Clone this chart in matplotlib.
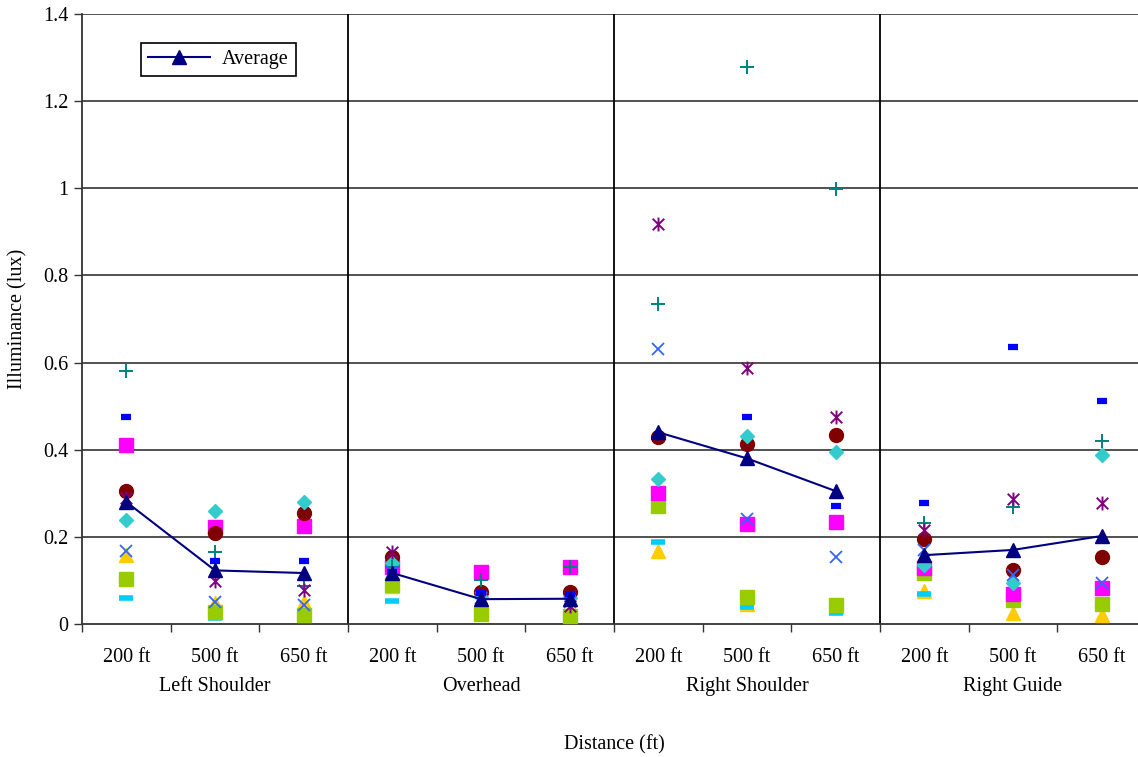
import numpy as np
import matplotlib
matplotlib.use('Agg')
import matplotlib.pyplot as plt
from matplotlib.path import Path
import matplotlib.transforms as mtransforms

plt.rcParams['font.family'] = ['Liberation Serif', 'DejaVu Serif']

groups = ['Left Shoulder', 'Overhead', 'Right Shoulder', 'Right Guide']
distances = ['200 ft', '500 ft', '650 ft']

# readings per series, 3 distances x 4 locations
gold_tri   = [0.158, 0.048, 0.050, 0.088, 0.030, 0.030, 0.168, 0.045, 0.040, 0.075, 0.025, 0.021]
cyan_dash  = [0.060, 0.014, 0.018, 0.053, 0.020, 0.015, 0.188, 0.039, 0.025, 0.069, 0.060, 0.044]
green_sq   = [0.103, 0.028, 0.021, 0.090, 0.023, 0.018, 0.270, 0.062, 0.044, 0.117, 0.056, 0.046]
magenta_sq = [0.411, 0.223, 0.225, 0.131, 0.119, 0.131, 0.300, 0.230, 0.234, 0.128, 0.069, 0.083]
red_circ   = [0.305, 0.209, 0.255, 0.153, 0.074, 0.074, 0.429, 0.413, 0.434, 0.195, 0.124, 0.154]
turq_diam  = [0.239, 0.260, 0.280, 0.140, 0.063, 0.060, 0.333, 0.432, 0.395, 0.135, 0.094, 0.388]
teal_plus  = [0.581, 0.165, 0.088, 0.130, 0.100, 0.131, 0.734, 1.278, 0.998, 0.231, 0.269, 0.420]
purple_ast = [0.290, 0.099, 0.078, 0.165, 0.060, 0.042, 0.918, 0.588, 0.475, 0.215, 0.287, 0.278]
blue_x     = [0.168, 0.050, 0.044, 0.120, 0.060, 0.050, 0.631, 0.241, 0.154, 0.170, 0.112, 0.094]
blue_dash  = [0.476, 0.145, 0.145, 0.120, 0.072, 0.068, 0.430, 0.476, 0.271, 0.277, 0.636, 0.511]
average    = [0.280, 0.123, 0.117, 0.117, 0.057, 0.058, 0.440, 0.380, 0.305, 0.158, 0.170, 0.202]

x = np.arange(12)

# excel style asterisk: X plus vertical bar
ast = Path([(-1, -1), (1, 1), (-1, 1), (1, -1), (0, -1.2), (0, 1.2)],
           [Path.MOVETO, Path.LINETO, Path.MOVETO, Path.LINETO, Path.MOVETO, Path.LINETO])

fig = plt.figure(figsize=(11.38, 7.57), dpi=100)
ax = fig.add_axes([82/1138, 133/757, 1064/1138, 610/757])

ax.set_xlim(-0.5, 11.5)
ax.set_ylim(0, 1.4)

# grid + group separators
for yv in np.arange(0.2, 1.41, 0.2):
    ax.axhline(yv, color='#333333', lw=1.2, zorder=0)
for xv in [2.5, 5.5, 8.5]:
    ax.axvline(xv, color='black', lw=1.3, zorder=0)

kw = dict(ls='none', zorder=3)
ax.plot(x, gold_tri, marker='^', ms=10, color='#ffcc00', mec='#ffcc00', **kw)
ax.plot(x, cyan_dash, marker='_', ms=10, mew=4, color='#00ccff', **kw)
ax.plot(x, green_sq, marker='s', ms=10, color='#99cc00', mec='#99cc00', **kw)
ax.plot(x, magenta_sq, marker='s', ms=10, color='#ff00ff', mec='#ff00ff', **kw)
ax.plot(x, red_circ, marker='o', ms=10, color='#800000', mec='#800000', **kw)
ax.plot(x, turq_diam, marker='D', ms=7.5, color='#33cccc', mec='#33cccc', **kw)
ax.plot(x, teal_plus, marker='+', ms=10, mew=1.4, color='#008080', **kw)
ax.plot(x, purple_ast, marker=ast, ms=10, mew=1.4, color='#800080', mfc='none', **kw)
ax.plot(x, blue_x, marker='x', ms=9, mew=1.3, color='#3366ff', **kw)
ax.plot(x, blue_dash, marker='_', ms=7, mew=4.5, color='#0000ff', **kw)

# average line broken between locations
avg = np.array(average)
for i in range(4):
    sl = slice(3 * i, 3 * i + 3)
    ax.plot(x[sl], avg[sl], marker='^', ms=10, color='#000080', mec='#000080', lw=1.5,
            zorder=4, label='Average' if i == 0 else None)

# axes styling
for s in ['top', 'right']:
    ax.spines[s].set_visible(False)
ax.spines['left'].set_color('#333333')
ax.spines['bottom'].set_color('#333333')
ax.spines['left'].set_linewidth(1.3)
ax.spines['bottom'].set_linewidth(1.3)

ax.set_yticks(np.arange(0, 1.41, 0.2))
ax.set_yticklabels(['0', '0.2', '0.4', '0.6', '0.8', '1', '1.2', '1.4'])
ax.tick_params(axis='y', length=6, width=1, pad=4, labelsize=14.5, color='#333333')

ax.set_xticks(x)
ax.set_xticklabels(distances * 4)
ax.set_xticks(np.arange(-0.5, 11.6, 1), minor=True)
ax.tick_params(axis='x', which='major', length=0, pad=17, labelsize=14.5)
ax.tick_params(axis='x', which='minor', length=6, width=1, color='#333333')

trans = mtransforms.blended_transform_factory(ax.transData, ax.transAxes)
for i, g in enumerate(groups):
    ax.text(3 * i + 1, -0.102, g, transform=trans, ha='center', va='center', fontsize=14.5)

ax.text(0.5, -0.198, 'Distance (ft)', transform=ax.transAxes, ha='center', va='center', fontsize=14.5)
ax.text(-0.060, 0.5, 'Illuminance (lux)', transform=ax.transAxes, ha='center', va='center',
        rotation=90, fontsize=14.5)

leg = ax.legend(loc='upper left', bbox_to_anchor=(0.055, 0.952), fontsize=14.5,
                frameon=True, fancybox=False, edgecolor='black', framealpha=1,
                handlelength=3.1, borderpad=0.35, handletextpad=0.6, borderaxespad=0)
leg.get_frame().set_linewidth(1.2)

fig.savefig('out.png', dpi=100)
